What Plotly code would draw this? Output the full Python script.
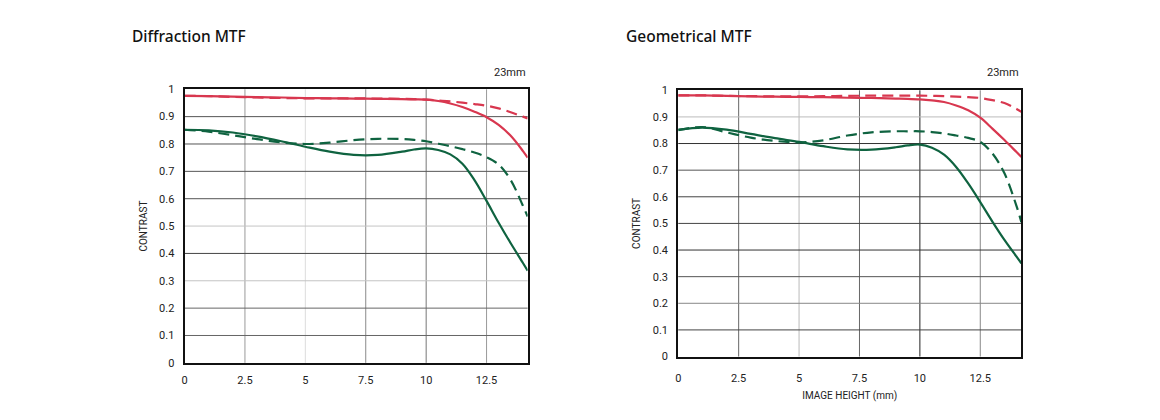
import plotly.graph_objects as go

# ---------------- data ----------------
x_pos = [0, 1, 2, 3, 4, 5, 6, 7, 8, 9, 9.5, 10, 10.5, 11, 11.5, 12, 12.5, 13, 13.5, 14, 14.2]

diff_red_solid = [0.976, 0.975, 0.973, 0.971, 0.970, 0.968, 0.967, 0.966, 0.965, 0.964, 0.963, 0.962,
                  0.957, 0.948, 0.935, 0.918, 0.898, 0.870, 0.830, 0.775, 0.750]
diff_red_dash = [0.976, 0.975, 0.972, 0.970, 0.968, 0.967, 0.967, 0.967, 0.966, 0.965, 0.964, 0.962,
                 0.959, 0.956, 0.951, 0.946, 0.940, 0.930, 0.916, 0.900, 0.893]
diff_green_solid = [0.852, 0.850, 0.842, 0.828, 0.810, 0.790, 0.772, 0.760, 0.760, 0.772, 0.780, 0.784,
                    0.778, 0.762, 0.728, 0.668, 0.592, 0.512, 0.437, 0.366, 0.337]
diff_green_dash = [0.852, 0.845, 0.832, 0.818, 0.806, 0.800, 0.805, 0.814, 0.819, 0.818, 0.815, 0.810,
                   0.801, 0.792, 0.781, 0.769, 0.752, 0.725, 0.668, 0.575, 0.535]

geo_red_solid = [0.981, 0.981, 0.979, 0.977, 0.976, 0.975, 0.974, 0.972, 0.971, 0.969, 0.968, 0.966,
                 0.962, 0.956, 0.943, 0.925, 0.897, 0.856, 0.813, 0.768, 0.750]
geo_red_dash = [0.981, 0.981, 0.979, 0.978, 0.977, 0.977, 0.978, 0.979, 0.980, 0.980, 0.980, 0.980,
                0.979, 0.978, 0.976, 0.974, 0.971, 0.963, 0.952, 0.930, 0.919]
geo_green_solid = [0.852, 0.860, 0.852, 0.836, 0.820, 0.806, 0.790, 0.778, 0.777, 0.786, 0.793, 0.796,
                   0.784, 0.758, 0.712, 0.650, 0.580, 0.507, 0.438, 0.375, 0.350]
geo_green_dash = [0.850, 0.862, 0.842, 0.822, 0.810, 0.804, 0.812, 0.830, 0.842, 0.846, 0.846, 0.846,
                  0.843, 0.838, 0.830, 0.821, 0.806, 0.763, 0.688, 0.565, 0.505]

x_ticks = [0, 2.5, 5, 7.5, 10, 12.5]
x_tick_labels = ["0", "2.5", "5", "7.5", "10", "12.5"]
y_ticks = [0, 0.1, 0.2, 0.3, 0.4, 0.5, 0.6, 0.7, 0.8, 0.9, 1]
y_tick_labels = ["0", "0.1", "0.2", "0.3", "0.4", "0.5", "0.6", "0.7", "0.8", "0.9", "1"]

# grid line shades (the reference's lines vary in darkness)
left_vgrid = {2.5: "#9a9a9a", 5: "#dcdcdc", 7.5: "#8a8a8a", 10: "#777777", 12.5: "#9a9a9a"}
left_hgrid = {0.1: "#666666", 0.2: "#666666", 0.3: "#c4c4c4", 0.4: "#444444", 0.5: "#c4c4c4",
              0.6: "#555555", 0.7: "#555555", 0.8: "#555555", 0.9: "#555555"}
right_vgrid = {2.5: "#666666", 5: "#bbbbbb", 7.5: "#666666", 10: "#222222", 12.5: "#888888"}
right_hgrid = {0.1: "#444444", 0.2: "#888888", 0.3: "#555555", 0.4: "#333333", 0.5: "#444444",
               0.6: "#444444", 0.7: "#555555", 0.8: "#333333", 0.9: "#bbbbbb"}

RED = "#d8374f"
GREEN = "#0f6340"
XMAX = 14.2

W, H = 1160, 420
fig = go.Figure()


def add_curves(x, rs, rd, gs, gd, xa, ya):
    for y, col, dash in [(rs, RED, "solid"), (rd, RED, "11px,6px"),
                         (gs, GREEN, "solid"), (gd, GREEN, "11px,6px")]:
        fig.add_trace(go.Scatter(x=x, y=y, xaxis=xa, yaxis=ya, mode="lines",
                                 line=dict(color=col, width=2.2, dash=dash, shape="spline", smoothing=1.0),
                                 showlegend=False, hoverinfo="skip"))


add_curves(x_pos, diff_red_solid, diff_red_dash, diff_green_solid, diff_green_dash, "x", "y")
add_curves(x_pos, geo_red_solid, geo_red_dash, geo_green_solid, geo_green_dash, "x2", "y2")

shapes = []
for xr, yr, vg, hg in [("x", "y", left_vgrid, left_hgrid), ("x2", "y2", right_vgrid, right_hgrid)]:
    for xv, c in vg.items():
        shapes.append(dict(type="line", xref=xr, yref=yr + " domain", x0=xv, x1=xv, y0=0, y1=1,
                           line=dict(color=c, width=1), layer="below"))
    for yv, c in hg.items():
        shapes.append(dict(type="line", xref=xr + " domain", yref=yr, x0=0, x1=1, y0=yv, y1=yv,
                           line=dict(color=c, width=1), layer="below"))

FONT = "Roboto, Liberation Sans, sans-serif"
TFONT = "Noto Sans, Open Sans, sans-serif"
tickfont = dict(family=FONT, size=11, color="#222222")
axis_common = dict(showgrid=False, zeroline=False, showline=True, linecolor="#111111", linewidth=2,
                   mirror=True, ticks="", tickfont=tickfont, fixedrange=True)


def py(px):
    # pixel row (from top) -> paper fraction, compensating the observed vertical rendering offset
    return 1 - ((px - 5.9) / 0.967) / H


fig.update_layout(
    width=W, height=H,
    margin=dict(l=0, r=0, t=0, b=0),
    paper_bgcolor="white", plot_bgcolor="white",
    xaxis=dict(domain=[182 / W, 526 / W], range=[0, XMAX], tickvals=x_ticks, ticktext=x_tick_labels,
               anchor="y", ticklabelstandoff=6, **axis_common),
    yaxis=dict(domain=[py(362), py(89)], range=[0, 1], tickvals=y_ticks, ticktext=y_tick_labels,
               anchor="x", ticklabelstandoff=6,
               title=dict(text="CONTRAST", font=dict(family=FONT, size=10, color="#222"), standoff=10),
               **axis_common),
    xaxis2=dict(domain=[677 / W, 1021 / W], range=[0, XMAX], tickvals=x_ticks, ticktext=x_tick_labels,
                anchor="y2", ticklabelstandoff=10,
                title=dict(text="IMAGE HEIGHT (mm)", font=dict(family=FONT, size=10, color="#222"), standoff=8),
                **axis_common),
    yaxis2=dict(domain=[py(355.7), py(90)], range=[0, 1], tickvals=y_ticks, ticktext=y_tick_labels,
                anchor="x2", ticklabelstandoff=6,
                title=dict(text="CONTRAST", font=dict(family=FONT, size=10, color="#222"), standoff=10),
                **axis_common),
    shapes=shapes,
    annotations=[
        dict(text="Diffraction MTF", xref="paper", yref="paper", x=127 / W, y=1 - 31 / H,
             xanchor="left", yanchor="middle", showarrow=False,
             font=dict(family=TFONT, size=15.5, color="#111111", weight=500)),
        dict(text="Geometrical MTF", xref="paper", yref="paper", x=623 / W, y=1 - 31 / H,
             xanchor="left", yanchor="middle", showarrow=False,
             font=dict(family=TFONT, size=15.5, color="#111111", weight=500)),
        dict(text="23mm", xref="paper", yref="paper", x=526 / W, y=1 - 69 / H,
             xanchor="right", yanchor="middle", showarrow=False,
             font=dict(family=FONT, size=11, color="#222222")),
        dict(text="23mm", xref="paper", yref="paper", x=1021 / W, y=1 - 69 / H,
             xanchor="right", yanchor="middle", showarrow=False,
             font=dict(family=FONT, size=11, color="#222222")),
    ],
)

fig.write_html(
    "out.html",
    config={"displayModeBar": False, "responsive": False},
    post_script="document.body.style.margin='0';document.body.style.overflow='hidden';"
                "document.documentElement.style.overflow='hidden';",
)
